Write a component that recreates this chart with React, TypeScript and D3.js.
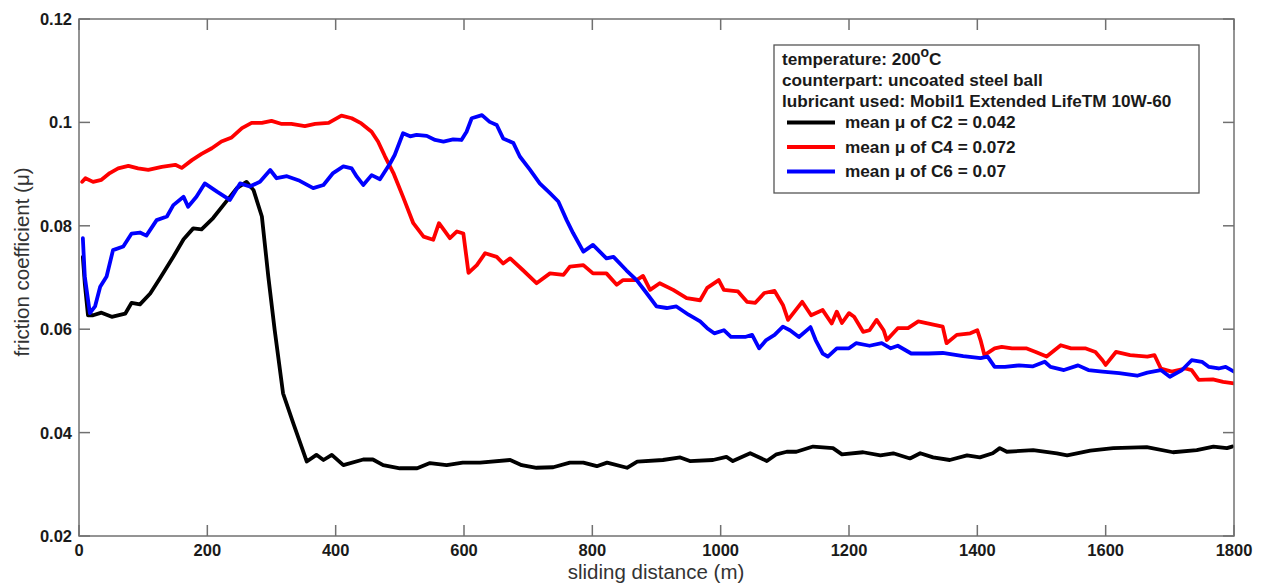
import React from "react";
import * as d3 from "d3";

const xTicks = [0, 200, 400, 600, 800, 1000, 1200, 1400, 1600, 1800];
const yTicks = [0.02, 0.04, 0.06, 0.08, 0.1, 0.12];
const yTickLabels = ["0.02", "0.04", "0.06", "0.08", "0.1", "0.12"];

const c2Dist = [6, 9, 14, 22, 35, 51, 72, 82, 95, 111, 126, 147, 163, 178, 191, 209, 225, 246, 261, 272, 285, 295, 305, 318, 334, 355, 370, 381, 394, 412, 443, 458, 474, 500, 527, 547, 573, 598, 625, 672, 690, 713, 739, 765, 786, 807, 823, 854, 870, 910, 937, 952, 988, 1009, 1019, 1046, 1072, 1087, 1103, 1118, 1144, 1175, 1189, 1222, 1249, 1269, 1295, 1311, 1331, 1357, 1384, 1404, 1424, 1435, 1446, 1487, 1524, 1540, 1576, 1612, 1664, 1705, 1742, 1768, 1789, 1797];
const c2Mu = [0.074, 0.0689, 0.0627, 0.0627, 0.0632, 0.0624, 0.063, 0.0651, 0.0648, 0.0669, 0.0698, 0.074, 0.0774, 0.0795, 0.0793, 0.0815, 0.084, 0.0873, 0.0885, 0.0869, 0.0818, 0.0702, 0.0598, 0.0476, 0.0418, 0.0344, 0.0357, 0.0347, 0.0357, 0.0337, 0.0348, 0.0348, 0.0337, 0.0331, 0.0331, 0.0341, 0.0337, 0.0342, 0.0342, 0.0347, 0.0337, 0.0332, 0.0333, 0.0342, 0.0342, 0.0335, 0.0342, 0.0332, 0.0344, 0.0347, 0.0352, 0.0345, 0.0347, 0.0353, 0.0345, 0.036, 0.0345, 0.0358, 0.0363, 0.0363, 0.0373, 0.037, 0.0358, 0.0362, 0.0356, 0.036, 0.035, 0.036, 0.0352, 0.0347, 0.0356, 0.0352, 0.036, 0.037, 0.0363, 0.0366, 0.036, 0.0356, 0.0365, 0.037, 0.0372, 0.0362, 0.0366, 0.0373, 0.037, 0.0373];

const c4Dist = [5, 10, 22, 35, 48, 61, 77, 92, 108, 129, 150, 160, 176, 191, 207, 222, 238, 254, 269, 285, 300, 316, 331, 352, 368, 389, 409, 425, 440, 456, 466, 477, 490, 505, 521, 537, 552, 561, 578, 589, 599, 607, 620, 633, 651, 661, 672, 692, 713, 734, 755, 765, 786, 801, 822, 838, 848, 869, 879, 890, 905, 926, 947, 968, 979, 997, 1005, 1027, 1041, 1054, 1068, 1084, 1097, 1105, 1127, 1141, 1159, 1173, 1181, 1189, 1200, 1208, 1222, 1232, 1243, 1254, 1259, 1276, 1292, 1308, 1335, 1346, 1352, 1368, 1389, 1400, 1405, 1411, 1427, 1438, 1454, 1476, 1491, 1508, 1530, 1546, 1568, 1584, 1595, 1600, 1616, 1638, 1665, 1676, 1686, 1703, 1724, 1734, 1745, 1767, 1783, 1800];
const c4Mu = [0.0885, 0.0892, 0.0885, 0.0889, 0.0902, 0.0911, 0.0916, 0.0911, 0.0908, 0.0914, 0.0918, 0.0912, 0.0927, 0.0939, 0.095, 0.0963, 0.0971, 0.0989, 0.0999, 0.0999, 0.1003, 0.0997, 0.0997, 0.0993, 0.0997, 0.0999, 0.1013, 0.1008, 0.0998, 0.0982, 0.0963, 0.0934, 0.0902, 0.0856, 0.0805, 0.0779, 0.0773, 0.0805, 0.0776, 0.0789, 0.0785, 0.0709, 0.0724, 0.0747, 0.074, 0.0727, 0.0737, 0.0714, 0.0689, 0.0708, 0.0705, 0.0721, 0.0724, 0.0708, 0.0708, 0.0686, 0.0695, 0.0695, 0.0703, 0.0676, 0.0689, 0.0676, 0.066, 0.0656, 0.068, 0.0695, 0.0676, 0.0673, 0.0653, 0.0651, 0.067, 0.0674, 0.0647, 0.0618, 0.0653, 0.0627, 0.0637, 0.0611, 0.0634, 0.0612, 0.0631, 0.0624, 0.0595, 0.0598, 0.0618, 0.0598, 0.0579, 0.0602, 0.0602, 0.0615, 0.0608, 0.0605, 0.0573, 0.0589, 0.0592, 0.0598, 0.0579, 0.055, 0.0563, 0.0566, 0.0563, 0.0563, 0.0556, 0.0547, 0.0569, 0.0563, 0.0563, 0.0556, 0.054, 0.0531, 0.0556, 0.055, 0.0547, 0.055, 0.0524, 0.0518, 0.0524, 0.0521, 0.0502, 0.0503, 0.0498, 0.0495];

const c6Dist = [6, 9, 17, 25, 33, 43, 53, 69, 82, 95, 105, 121, 137, 147, 163, 170, 183, 196, 215, 235, 251, 266, 282, 298, 308, 324, 344, 365, 381, 396, 412, 425, 433, 443, 456, 469, 485, 492, 505, 516, 526, 542, 555, 568, 583, 596, 604, 612, 628, 640, 651, 661, 677, 687, 703, 718, 734, 747, 760, 770, 786, 801, 822, 833, 853, 869, 885, 900, 916, 931, 950, 968, 979, 990, 1005, 1016, 1038, 1049, 1060, 1071, 1084, 1097, 1108, 1122, 1140, 1148, 1159, 1167, 1181, 1200, 1211, 1232, 1251, 1265, 1276, 1297, 1324, 1346, 1378, 1405, 1416, 1427, 1443, 1465, 1486, 1505, 1514, 1535, 1557, 1573, 1595, 1621, 1649, 1665, 1686, 1700, 1719, 1734, 1750, 1761, 1776, 1787, 1800];
const c6Mu = [0.0776, 0.0702, 0.0631, 0.0644, 0.0682, 0.0702, 0.0753, 0.076, 0.0785, 0.0787, 0.0781, 0.0811, 0.0818, 0.084, 0.0856, 0.0837, 0.0856, 0.0882, 0.0866, 0.085, 0.0882, 0.0876, 0.0885, 0.0908, 0.0892, 0.0896, 0.0887, 0.0873, 0.0879, 0.0902, 0.0915, 0.0911, 0.0895, 0.0879, 0.0898, 0.089, 0.0921, 0.0937, 0.0979, 0.0973, 0.0976, 0.0974, 0.0966, 0.0963, 0.0967, 0.0966, 0.0982, 0.1008, 0.1014, 0.1001, 0.0995, 0.0969, 0.096, 0.0934, 0.0908, 0.0882, 0.0863, 0.0847, 0.0811, 0.0786, 0.075, 0.0763, 0.0737, 0.074, 0.0714, 0.0695, 0.0669, 0.0644, 0.0641, 0.0644, 0.0628, 0.0615, 0.0602, 0.0592, 0.0598, 0.0585, 0.0585, 0.0589, 0.0563, 0.0579, 0.0589, 0.0605, 0.0598, 0.0585, 0.0604, 0.0579, 0.0553, 0.0547, 0.0563, 0.0563, 0.0573, 0.0568, 0.0573, 0.0563, 0.0568, 0.0553, 0.0553, 0.0554, 0.0548, 0.0544, 0.0547, 0.0527, 0.0527, 0.053, 0.0528, 0.0537, 0.0527, 0.0521, 0.053, 0.0521, 0.0518, 0.0515, 0.051, 0.0516, 0.0521, 0.0508, 0.0521, 0.054, 0.0537, 0.0527, 0.0524, 0.0527, 0.0518];

const seriesNames = ["mean \u03bc of C2 = 0.042", "mean \u03bc of C4 = 0.072", "mean \u03bc of C6 = 0.07"];
const seriesColors = ["#000000", "#ff0000", "#0000ff"];
const infoLines = ["counterpart: uncoated steel ball", "lubricant used: Mobil1 Extended LifeTM 10W-60"];

const FONT = "'Liberation Sans', Arial, Helvetica, sans-serif";

export default function App() {
  const left = 79, right = 1234, top = 19, bottom = 536;
  const x = d3.scaleLinear().domain([0, 1800]).range([left, right]);
  const y = d3.scaleLinear().domain([0.02, 0.12]).range([bottom, top]);
  const series = [
    { dist: c2Dist, mu: c2Mu },
    { dist: c4Dist, mu: c4Mu },
    { dist: c6Dist, mu: c6Mu },
  ];
  const line = d3
    .line<[number, number]>()
    .x((d) => x(d[0]))
    .y((d) => y(d[1]));
  const axisColor = "#707070";
  const tickLen = 11;
  const legendFont = 17.2;

  return (
    <svg
      width={1262}
      height={583}
      style={{ position: "absolute", left: 0, top: 0, background: "#fff" }}
      fontFamily={FONT}
    >
      <defs>
        <clipPath id="plotclip">
          <rect x={left} y={top} width={right - left} height={bottom - top} />
        </clipPath>
      </defs>
      <g clipPath="url(#plotclip)">
        {series.map((s, i) => (
          <path
            key={i}
            d={line(s.dist.map((d, j) => [d, s.mu[j]] as [number, number])) || ""}
            fill="none"
            stroke={seriesColors[i]}
            strokeWidth={3.8}
            strokeLinejoin="round"
            strokeLinecap="round"
          />
        ))}
      </g>
      <rect x={left} y={top} width={right - left} height={bottom - top} fill="none" stroke={axisColor} strokeWidth={1.5} />
      {xTicks.map((t) => (
        <g key={"xt" + t}>
          <line x1={x(t)} x2={x(t)} y1={bottom} y2={bottom - tickLen} stroke={axisColor} strokeWidth={1.5} />
          <line x1={x(t)} x2={x(t)} y1={top} y2={top + tickLen} stroke={axisColor} strokeWidth={1.5} />
          <text x={x(t)} y={556} textAnchor="middle" fontSize={16.5} fontWeight="bold" fill="#1a1a1a">
            {t}
          </text>
        </g>
      ))}
      {yTicks.map((t, i) => (
        <g key={"yt" + t}>
          <line x1={left} x2={left + tickLen} y1={y(t)} y2={y(t)} stroke={axisColor} strokeWidth={1.5} />
          <line x1={right} x2={right - tickLen} y1={y(t)} y2={y(t)} stroke={axisColor} strokeWidth={1.5} />
          <text x={72} y={y(t) + 6} textAnchor="end" fontSize={16.5} fontWeight="bold" fill="#1a1a1a">
            {yTickLabels[i]}
          </text>
        </g>
      ))}
      <text x={656} y={579} textAnchor="middle" fontSize={20.5} fill="#333">
        sliding distance (m)
      </text>
      <text
        transform={`translate(29, 262) rotate(-90)`}
        textAnchor="middle"
        fontSize={20.5}
        fill="#333"
      >
        friction coefficient (μ)
      </text>
      <rect x={774} y={45} width={425} height={148} fill="#fff" stroke="#555" strokeWidth={1.3} />
      <text x={782} y={65} fontSize={legendFont} fontWeight="bold" fill="#1a1a1a">
        temperature: 200
        <tspan fontSize={14} dy={-8}>o</tspan>
        <tspan dy={8}>C</tspan>
      </text>
      {infoLines.map((s, i) => (
        <text key={s} x={782} y={86 + i * 21} fontSize={legendFont} fontWeight="bold" fill="#1a1a1a">
          {s}
        </text>
      ))}
      {seriesNames.map((s, i) => (
        <g key={s}>
          <line x1={787} x2={835} y1={122.5 + i * 24.5} y2={122.5 + i * 24.5} stroke={seriesColors[i]} strokeWidth={3.8} />
          <text x={845} y={128 + i * 24.5} fontSize={legendFont} fontWeight="bold" fill="#1a1a1a">
            {s}
          </text>
        </g>
      ))}
    </svg>
  );
}
